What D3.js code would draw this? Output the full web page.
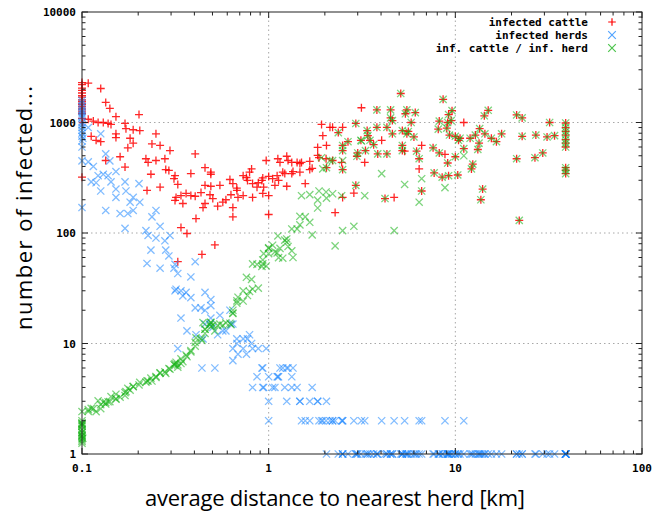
<!DOCTYPE html>
<html>
<head>
<meta charset="utf-8">
<script src="https://cdn.jsdelivr.net/npm/d3@7/dist/d3.min.js"></script>
<style>
  body { margin: 0; background: #fff; }
  .tick-label { font-family: "DejaVu Sans Mono", monospace; font-weight: bold; font-size: 11px; }
  .axis-title { font-family: "Open Sans", Lato, sans-serif; font-size: 22px; }
</style>
</head>
<body>
<div id="chart"></div>
<script>
// each run: [average distance to nearest herd (km), infected cattle, infected herds]
// ratio (green) is cattle / herds, as in the legend

// runs sitting at the 0.1 km end
const runsAt100m = [
  [0.1, 2300, 1580], [0.1, 2200, 1400], [0.1, 2050, 1250], [0.1, 1950, 1500],
  [0.1, 1850, 1100], [0.1, 1750, 1300], [0.1, 1700, 950], [0.1, 1600, 1150],
  [0.1, 1550, 850], [0.1, 1500, 1200], [0.1, 1450, 1000], [0.1, 1400, 750],
  [0.1, 1350, 900], [0.1, 1300, 680], [0.1, 1250, 800], [0.1, 1200, 600],
  [0.1, 1090, 450], [0.101, 1000, 720], [0.1, 320, 170]
];

// 0.1 - 0.21 km
const runsUnder200m = [
  [0.108, 2270, 900], [0.126, 2030, 790], [0.134, 1520, 520], [0.141, 1340, 450],
  [0.152, 1130, 360], [0.202, 1180, 280], [0.108, 1070, 440], [0.115, 1030, 400],
  [0.122, 1000, 330], [0.130, 1000, 340], [0.138, 980, 330], [0.143, 960, 290],
  [0.170, 980, 290], [0.112, 750, 290], [0.119, 690, 285], [0.126, 670, 240],
  [0.152, 790, 250], [0.152, 730, 210], [0.172, 880, 240], [0.188, 860, 210],
  [0.204, 845, 190], [0.181, 720, 190], [0.188, 650, 160], [0.176, 590, 150],
  [0.160, 490, 150], [0.134, 453, 160], [0.170, 395, 110]
];

// 0.21 - 0.65 km
const runsUnder650m = [
  [0.249, 790, 160], [0.237, 640, 140], [0.262, 620, 115], [0.296, 557, 95],
  [0.220, 470, 105], [0.226, 435, 95], [0.249, 453, 90], [0.278, 470, 85],
  [0.281, 375, 70], [0.292, 368, 62], [0.234, 340, 70], [0.315, 330, 52],
  [0.311, 310, 48], [0.262, 260, 48], [0.326, 275, 43], [0.223, 243, 53],
  [0.404, 520, 55], [0.383, 345, 40], [0.456, 390, 29], [0.490, 355, 25],
  [0.490, 340, 22], [0.456, 270, 20], [0.490, 265, 17], [0.548, 270, 18],
  [0.620, 305, 20], [0.643, 280, 15], [0.675, 255, 11], [0.319, 210, 31],
  [0.339, 218, 30], [0.361, 228, 29], [0.383, 218, 26], [0.404, 215, 21],
  [0.434, 232, 21], [0.485, 222, 15], [0.502, 205, 14], [0.315, 197, 30],
  [0.347, 185, 27], [0.456, 185, 15], [0.445, 170, 11], [0.533, 175, 12],
  [0.568, 190, 13], [0.590, 200, 13], [0.628, 222, 15], [0.643, 170, 9],
  [0.643, 140, 7], [0.408, 135, 12], [0.339, 112, 17], [0.365, 99, 13],
  [0.515, 78, 6], [0.439, 64, 6], [0.326, 55, 9]
];

// 0.65 - 2 km
const runsUnder2km = [
  [0.676, 243, 10], [0.685, 210, 8], [0.73, 218, 9], [0.73, 330, 11],
  [0.76, 318, 8], [0.81, 380, 10], [0.79, 355, 12], [0.77, 299, 11],
  [0.82, 280, 9], [0.866, 260, 5], [0.88, 285, 9], [0.92, 299, 6],
  [0.93, 315, 6], [0.82, 210, 4], [0.93, 228, 4], [0.94, 260, 4],
  [1.0, 218, 3], [0.97, 453, 9], [1.12, 470, 5], [1.15, 435, 6],
  [1.25, 495, 6], [1.27, 453, 6], [1.33, 435, 4], [1.42, 435, 4],
  [1.47, 425, 3], [1.5, 435, 2], [1.0, 325, 5], [1.05, 310, 4],
  [1.11, 330, 5], [1.19, 355, 6], [1.22, 345, 4], [1.33, 345, 5],
  [1.35, 360, 6], [1.47, 355, 3], [1.08, 270, 4], [1.25, 265, 3],
  [1.13, 299, 5], [1.0, 147, 2], [1.66, 445, 2], [1.66, 375, 3],
  [1.71, 385, 4], [1.57, 280, 2], [1.83, 595, 3], [1.86, 480, 2],
  [2.04, 620, 3], [2.03, 470, 2], [1.83, 505, 3]
];

// beyond 2 km, mostly a single infected herd
const runsBeyond2km = [
  [1.92, 960, 2], [1.95, 760, 2], [2.13, 905, 2], [2.2, 905, 2], [2.36, 810, 1],
  [2.49, 905, 2], [2.93, 980, 1], [3.14, 1360, 2], [2.49, 210, 2], [2.27, 153, 2],
  [2.04, 390, 1], [2.2, 453, 2], [2.46, 435, 2], [2.49, 375, 1], [2.49, 557, 1],
  [2.49, 620, 1], [2.66, 670, 1], [2.93, 270, 1], [2.86, 230, 2], [2.97, 495, 1],
  [3.0, 530, 1], [3.27, 435, 2], [3.3, 557, 1], [3.12, 690, 1], [3.37, 845, 1],
  [3.49, 690, 1], [3.4, 760, 1], [3.65, 630, 1], [4.03, 690, 2], [3.8, 905, 1],
  [4.3, 905, 1], [4.6, 790, 1], [5.2, 845, 1], [5.5, 790, 1], [3.8, 1300, 1],
  [4.5, 1300, 1], [5.1, 1830, 1], [5.4, 1200, 1], [4.6, 1040, 1], [4.5, 1100, 1],
  [3.84, 520, 1], [4.3, 520, 1], [5.2, 620, 1], [5.2, 557, 1], [4.2, 205, 1],
  [4.7, 210, 2], [5.5, 1300, 1], [6.1, 1230, 1], [5.8, 1000, 1], [5.6, 830, 1],
  [6.0, 740, 1], [5.35, 550, 2], [6.2, 550, 1], [6.4, 470, 1], [6.6, 620, 2],
  [6.4, 380, 2], [6.6, 240, 1], [8.6, 1620, 1], [8.2, 1030, 1], [9.1, 1000, 1],
  [9.5, 1040, 1], [9.6, 1280, 1], [9.2, 1180, 1], [8.1, 870, 1], [9.0, 890, 1],
  [9.3, 770, 1], [10.0, 750, 1], [10.6, 720, 1], [10.4, 690, 1], [11.1, 1000, 2],
  [7.6, 590, 1], [8.2, 530, 1], [8.8, 515, 2], [10.0, 490, 1], [9.1, 430, 1],
  [11.1, 580, 1], [12.0, 720, 1], [12.8, 770, 1], [13.4, 650, 1], [13.2, 570, 1],
  [12.4, 420, 1], [12.2, 380, 1], [7.7, 350, 1], [8.5, 320, 1], [9.2, 330, 1],
  [10.3, 335, 1], [14.0, 250, 1], [13.7, 200, 1], [13.5, 880, 1], [14.4, 790, 1],
  [15.6, 720, 1], [16.6, 670, 1], [17.7, 790, 1], [14.3, 1150, 1], [15.0, 1290, 1],
  [21.3, 1170, 1], [22.8, 1100, 1], [21.3, 470, 1], [22.0, 130, 1], [22.8, 750, 1],
  [27.0, 770, 1], [26.7, 480, 1], [29.4, 530, 1], [32.0, 1000, 1], [31.0, 740, 1],
  [34.0, 760, 1], [39, 990, 1], [39, 900, 1], [39, 830, 1], [39, 770, 1],
  [39, 700, 1], [39, 650, 1], [39, 600, 1], [39, 390, 1], [39, 370, 1], [39, 345, 1]
];

const xTicks = [0.1, 1, 10, 100];
const xTickLabels = ["0.1", "1", "10", "100"];
const yTicks = [1, 10, 100, 1000, 10000];
const yTickLabels = ["1", "10", "100", "1000", "10000"];
const seriesNames = ["infected cattle", "infected herds", "inf. cattle / inf. herd"];
const xTitle = "average distance to nearest herd [km]";
const yTitle = "number of infected...";

const runs = [].concat(runsAt100m, runsUnder200m, runsUnder650m, runsUnder2km, runsBeyond2km);

const width = 655, height = 513;
const margin = { top: 12, right: 13, bottom: 59, left: 82 };

const svg = d3.select("#chart").append("svg")
  .attr("width", width)
  .attr("height", height);

const x = d3.scaleLog().domain([0.1, 100]).range([margin.left, width - margin.right]);
const y = d3.scaleLog().domain([1, 10000]).range([height - margin.bottom, margin.top]);

const [x0, x1] = x.range();
const [y0, y1] = y.range(); // y0 bottom, y1 top

// minor ticks 2..9 in each decade
function minors(lo, hi) {
  const out = [];
  for (let d = lo; d < hi; d *= 10) {
    for (let k = 2; k <= 9; k++) out.push(d * k);
  }
  return out;
}

// grid (dotted), only at inner major ticks
const grid = svg.append("g").attr("stroke", "#a8a8a8").attr("stroke-width", 1)
  .attr("stroke-dasharray", "1.5,3");
grid.selectAll(".gx").data(xTicks.slice(1, -1)).join("line")
  .attr("x1", d => x(d)).attr("x2", d => x(d)).attr("y1", y0).attr("y2", y1);
grid.selectAll(".gy").data(yTicks.slice(1, -1)).join("line")
  .attr("y1", d => y(d)).attr("y2", d => y(d)).attr("x1", x0).attr("x2", x1);

// plus / cross marker paths
function plus(cx, cy, s) {
  return `M${cx - s},${cy}H${cx + s}M${cx},${cy - s}V${cy + s}`;
}
function cross(cx, cy, s) {
  return `M${cx - s},${cy - s}L${cx + s},${cy + s}M${cx - s},${cy + s}L${cx + s},${cy - s}`;
}

const series = [
  { name: seriesNames[0], value: d => d[1], shape: plus, size: 4, color: "#ff0000", opacity: 0.85 },
  { name: seriesNames[1], value: d => d[2], shape: cross, size: 3.6, color: "#1a85ff", opacity: 0.55 },
  { name: seriesNames[2], value: d => d[1] / d[2], shape: cross, size: 3.6, color: "#12b012", opacity: 0.55 }
];

series.forEach(s => {
  svg.append("g")
    .attr("fill", "none")
    .attr("stroke", s.color)
    .attr("stroke-opacity", s.opacity)
    .attr("stroke-width", 1.3)
    .selectAll("path")
    .data(runs)
    .join("path")
    .attr("d", d => s.shape(x(d[0]), y(s.value(d)), s.size));
});

// border + ticks (gnuplot style: inward, mirrored)
const axes = svg.append("g").attr("stroke", "#222").attr("stroke-width", 1);
axes.append("rect")
  .attr("x", x0).attr("y", y1)
  .attr("width", x1 - x0).attr("height", y0 - y1)
  .attr("fill", "none");

const xMaj = xTicks, xMin = minors(0.1, 100);
const yMaj = yTicks, yMin = minors(1, 10000);

function xTickLines(vals, len) {
  vals.forEach(v => {
    axes.append("line").attr("x1", x(v)).attr("x2", x(v)).attr("y1", y0).attr("y2", y0 - len);
    axes.append("line").attr("x1", x(v)).attr("x2", x(v)).attr("y1", y1).attr("y2", y1 + len);
  });
}
function yTickLines(vals, len) {
  vals.forEach(v => {
    axes.append("line").attr("y1", y(v)).attr("y2", y(v)).attr("x1", x0).attr("x2", x0 + len);
    axes.append("line").attr("y1", y(v)).attr("y2", y(v)).attr("x1", x1).attr("x2", x1 - len);
  });
}
xTickLines(xMaj, 6);
xTickLines(xMin, 3.5);
yTickLines(yMaj, 6);
yTickLines(yMin, 3.5);

// tick labels
svg.append("g").selectAll("text").data(xTicks).join("text")
  .attr("class", "tick-label")
  .attr("x", d => x(d))
  .attr("y", y0 + 18)
  .attr("text-anchor", "middle")
  .text((d, i) => xTickLabels[i]);

svg.append("g").selectAll("text").data(yTicks).join("text")
  .attr("class", "tick-label")
  .attr("x", x0 - 6)
  .attr("y", d => y(d) + 4)
  .attr("text-anchor", "end")
  .text((d, i) => yTickLabels[i]);

svg.append("text")
  .attr("class", "axis-title")
  .attr("x", 335)
  .attr("y", 506)
  .attr("text-anchor", "middle")
  .attr("textLength", 380)
  .attr("lengthAdjust", "spacing")
  .text(xTitle);

svg.append("text")
  .attr("class", "axis-title")
  .attr("transform", "translate(32,208) rotate(-90)")
  .attr("text-anchor", "middle")
  .attr("textLength", 244)
  .attr("lengthAdjust", "spacing")
  .text(yTitle);

// legend, top right inside the plot
const legend = svg.append("g");
series.forEach((s, i) => {
  const ly = 22 + i * 13;
  legend.append("text")
    .attr("class", "tick-label")
    .attr("font-size", "11.5px")
    .attr("x", 588)
    .attr("y", ly + 4)
    .attr("text-anchor", "end")
    .text(s.name);
  legend.append("path")
    .attr("d", s.shape(612, ly, 3.8))
    .attr("fill", "none")
    .attr("stroke", s.color)
    .attr("stroke-opacity", Math.min(1, s.opacity + 0.2))
    .attr("stroke-width", 1.2);
});
</script>
</body>
</html>
